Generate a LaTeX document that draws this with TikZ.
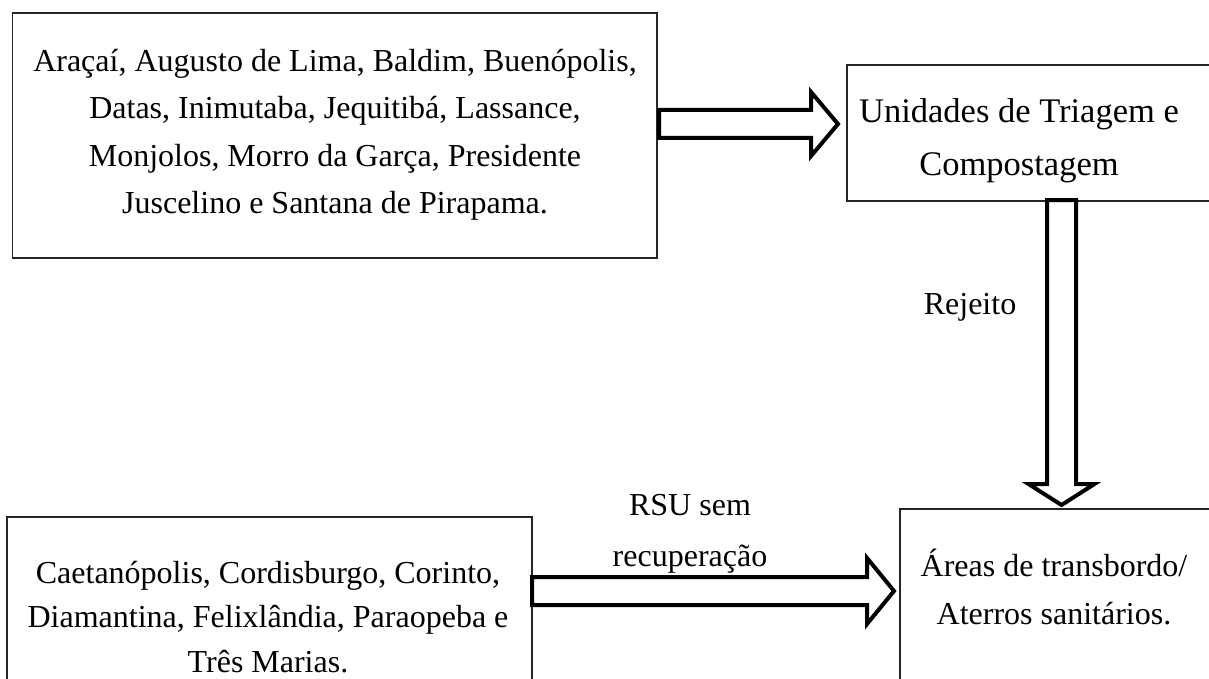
\documentclass[tikz,border=0pt]{standalone}
\usepackage{fontspec}
\setmainfont{Liberation Serif}
\usetikzlibrary{calc}
\begin{document}
\begin{tikzpicture}[x=1pt,y=-1pt,
  box/.style={draw=black!85, line width=1.3pt},
  txt/.style={font=\fontsize{32}{#1}\selectfont, align=center, inner sep=0pt},
  txt/.default=47.5,
  blockarrow/.style={draw=black, line width=4pt, fill=white, line join=miter}]
\useasboundingbox (0,0) rectangle (1209,679);
\clip (0,0) rectangle (1209,679);
\fill[white] (0,0) rectangle (1209,679);

% boxes
\draw[box] (12.5,13) rectangle (657,258);
\draw[box] (847,65) rectangle (1230,201);
\draw[box] (7,517) rectangle (532,700);
\draw[box] (900,509) rectangle (1230,700);

% texts
\node[txt] (municipiosA) at (335,135) {Araçaí, Augusto de Lima, Baldim, Buenópolis,\\Datas, Inimutaba, Jequitibá, Lassance,\\Monjolos, Morro da Garça, Presidente\\Juscelino e Santana de Pirapama.};
\node[txt, font=\fontsize{34.5}{53}\selectfont] (utc) at (1019,141) {Unidades de Triagem e\\Compostagem};
\node[txt] (rejeito) at (970,307) {Rejeito};
\node[txt=51] (rsu) at (690,533.5) {RSU sem\\recuperação};
\node[txt=44.5] (municipiosB) at (268,617) {Caetanópolis, Cordisburgo, Corinto,\\Diamantina, Felixlândia, Paraopeba e\\Três Marias.};
\node[txt=48] (aterros) at (1054,587) {Áreas de transbordo/\\Aterros sanitários.};

% block arrows
\coordinate (a1s) at (659,124);
\coordinate (a1e) at (838,124);
\draw[blockarrow] ($(a1s)+(0,-14)$) -- ($(a1e)+(-27,-14)$) -- ($(a1e)+(-27,-32)$) -- (a1e)
  -- ($(a1e)+(-27,32)$) -- ($(a1e)+(-27,14)$) -- ($(a1s)+(0,14)$) -- cycle;

\coordinate (a2s) at (1061.5,200);
\coordinate (a2e) at (1061.5,505);
\draw[blockarrow] ($(a2s)+(-14.5,0)$) -- ($(a2e)+(-14.5,-21)$) -- ($(a2e)+(-33,-21)$) -- (a2e)
  -- ($(a2e)+(33,-21)$) -- ($(a2e)+(14.5,-21)$) -- ($(a2s)+(14.5,0)$) -- cycle;

\coordinate (a3s) at (532,591);
\coordinate (a3e) at (894,591);
\draw[blockarrow] ($(a3s)+(0,-14)$) -- ($(a3e)+(-27,-14)$) -- ($(a3e)+(-27,-33)$) -- (a3e)
  -- ($(a3e)+(-27,33)$) -- ($(a3e)+(-27,14)$) -- ($(a3s)+(0,14)$) -- cycle;
\end{tikzpicture}
\end{document}
